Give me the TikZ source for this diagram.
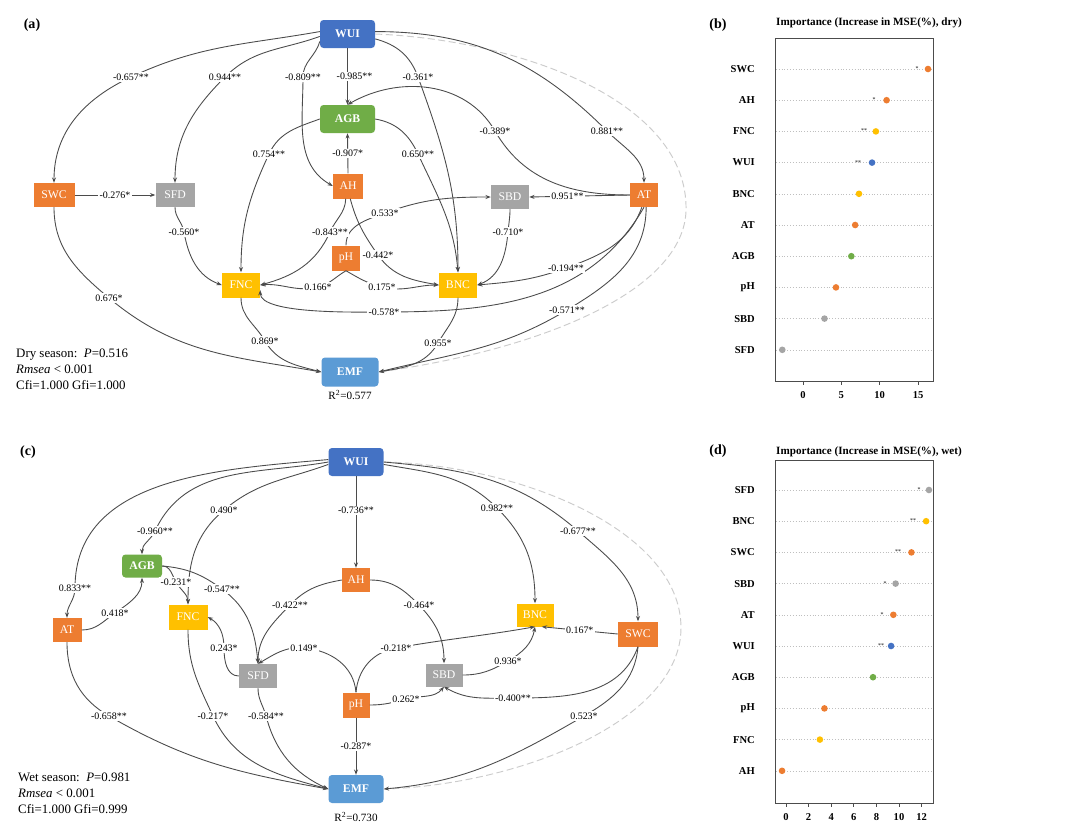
\documentclass[tikz,border=0pt]{standalone}
\usepackage{fontspec}
\setmainfont{Liberation Serif}
\usetikzlibrary{arrows.meta}

\definecolor{wuiblue}{RGB}{68,114,196}
\definecolor{emfblue}{RGB}{91,155,213}
\definecolor{agbgreen}{RGB}{112,173,71}
\definecolor{envorange}{RGB}{237,125,49}
\definecolor{ncyellow}{RGB}{255,192,0}
\definecolor{soilgray}{RGB}{165,165,165}
\definecolor{linkgray}{RGB}{75,75,75}

\tikzset{
  var/.style={fill=#1, text=white, inner sep=0pt, font=\fontsize{10}{12}\selectfont},
  rvar/.style={var=#1, rounded corners=3pt, font=\fontsize{10}{12}\selectfont\bfseries},
  sz/.style 2 args={minimum width=#1*0.03cm, minimum height=#2*0.03cm},
  link/.style={->, draw=linkgray, line width=0.75pt},
  coef/.style={fill=white, inner sep=1pt, font=\fontsize{8.5}{10}\selectfont},
  fitarc/.style={draw=black!20, dash pattern=on 6pt off 3pt, line width=0.8pt},
  panel/.style={font=\fontsize{12}{14}\selectfont\bfseries},
  stats/.style={anchor=west, align=left, inner sep=0pt, font=\fontsize{11}{13.6}\selectfont},
  rsq/.style={font=\fontsize{9.5}{11}\selectfont},
  ttl/.style={font=\fontsize{9.5}{11}\selectfont\bfseries},
  rowlab/.style={anchor=east, inner sep=0pt, font=\fontsize{9}{10}\selectfont\bfseries},
  ticklab/.style={font=\fontsize{9}{10}\selectfont\bfseries},
  sig/.style={inner sep=0pt, font=\fontsize{5}{5}\selectfont},
  dotrow/.style={draw=black!25, dotted, line width=0.4pt},
  plotbox/.style={draw=black!70, line width=0.7pt},
}

\begin{document}
\begin{tikzpicture}[x=0.03cm, y=-0.03cm, >={Stealth[length=4.5pt,width=3.4pt]}]
\path[use as bounding box, fill=white] (0,0) rectangle (1078,832);

% (a) dry season
\node[panel] (tagA) at (32,25) {(a)};
\node[rvar=wuiblue, sz={55}{28}] (WUIa) at (347.5,34) {WUI};
\node[rvar=agbgreen, sz={55}{28}] (AGBa) at (347.5,119) {AGB};
\node[var=envorange, sz={30}{25}] (AHa) at (348,186) {AH};
\node[var=envorange, sz={28}{25}] (pHa) at (346,258) {pH};
\node[var=ncyellow, sz={38}{25}] (FNCa) at (241,285) {FNC};
\node[var=ncyellow, sz={38}{25}] (BNCa) at (458,285) {BNC};
\node[var=envorange, sz={41}{24}] (SWCa) at (54,195) {SWC};
\node[var=soilgray, sz={39}{24}] (SFDa) at (175,195) {SFD};
\node[var=soilgray, sz={38}{24}] (SBDa) at (510,197) {SBD};
\node[var=envorange, sz={28}{24}] (ATa) at (644,195) {AT};
\node[rvar=emfblue, sz={57}{29}] (EMFa) at (350,372) {EMF};
\node[rsq] (R2a) at (350,395) {R\textsuperscript{2}=0.577};
\node[stats] (fitA) at (16,369) {Dry season:\ \ \textit{P}=0.516\\\textit{Rmsea} < 0.001\\Cfi=1.000 Gfi=1.000};

\draw[fitarc] (WUIa.east) .. controls (520,40) and (683,100) .. (686,205) .. controls (690,290) and (540,350) .. (EMFa.east);
\draw[link] (WUIa.175) to[out=190,in=25] (131,77) node[coef] {-0.657**} to[out=205,in=90] (SWCa.north);
\draw[link] (WUIa.185) to[out=200,in=45] (225,77) node[coef] {0.944**} to[out=225,in=90] (SFDa.north);
\draw[link] (WUIa.195) to[out=255,in=90] (303,77) node[coef] {-0.809**} to[out=270,in=150] (AHa.west);
\draw[link] (WUIa.south) -- node[coef,xshift=6pt] {-0.985**} (AGBa.north);
\draw[link] (WUIa.-10) to[out=345,in=110] (418,77) node[coef] {-0.361*} to[out=290,in=90] (BNCa.north);
\draw[link] (WUIa.5) to[out=0,in=135] (607,131) node[coef] {0.881**} to[out=315,in=90] (ATa.north);
\draw[link] (ATa.west) to[out=180,in=300] (495,131) node[coef] {-0.389*} to[out=120,in=30] (AGBa.north);
\draw[link] (AGBa.west) to[out=200,in=65] (269,154) node[coef] {0.754**} to[out=245,in=90] (FNCa.north);
\draw[link] (AHa.north) -- node[coef] {-0.907*} (AGBa.south);
\draw[link] (AGBa.east) to[out=350,in=115] (418,154) node[coef] {0.650**} to[out=295,in=95] (BNCa.north);
\draw[link] (SWCa.east) -- node[coef] {-0.276*} (SFDa.west);
\draw[link] (SFDa.south) to[out=270,in=100] (184,232) node[coef] {-0.560*} to[out=280,in=160] (FNCa.west);
\draw[link] (ATa.west) -- node[coef,pos=.62] {0.951**} (SBDa.east);
\draw[link] (SBDa.south) to[out=270,in=85] (508,232) node[coef] {-0.710*} to[out=265,in=20] (BNCa.east);
\draw[link] (pHa.north) to[out=90,in=200] (385,213) node[coef] {0.533*} to[out=20,in=180] (SBDa.west);
\draw[link] (AHa.-100) to[out=268,in=66] (330,232) node[coef] {-0.843**} to[out=246,in=15] (FNCa.east);
\draw[link] (AHa.-80) to[out=285,in=125] (378,255) node[coef] {-0.442*} to[out=305,in=170] (BNCa.west);
\draw[link] (pHa.south) to[out=210,in=14] (318,287) node[coef] {0.166*} to[out=194,in=5] (FNCa.east);
\draw[link] (pHa.south) to[out=330,in=166] (382,287) node[coef] {0.175*} to[out=346,in=180] (BNCa.west);
\draw[link] (ATa.south) to[out=240,in=0] (384,312) node[coef] {-0.578*} to[out=180,in=270,looseness=.5] (FNCa.-15);
\draw[link] (ATa.-100) to[out=250,in=20] (566,268) node[coef] {-0.194**} to[out=200,in=5] (BNCa.east);
\draw[link] (ATa.-80) to[out=270,in=31] (567,310) node[coef] {-0.571**} to[out=211,in=14] (EMFa.east);
\draw[link] (FNCa.south) to[out=270,in=120] (265,341) node[coef] {0.869*} to[out=300,in=165] (EMFa.west);
\draw[link] (BNCa.south) to[out=270,in=60] (438,343) node[coef] {0.955*} to[out=240,in=10] (EMFa.east);
\draw[link] (SWCa.south) to[out=270,in=140] (109,298) node[coef] {0.676*} to[out=320,in=170] (EMFa.west);

% (c) wet season
\node[panel] (tagC) at (28,452) {(c)};
\node[rvar=wuiblue, sz={55}{28}] (WUIc) at (356,462) {WUI};
\node[var=envorange, sz={28}{24}] (AHc) at (356,580) {AH};
\node[rvar=agbgreen, sz={40}{23}] (AGBc) at (142,566) {AGB};
\node[var=envorange, sz={29}{24}] (ATc) at (67,630) {AT};
\node[var=ncyellow, sz={39}{25}] (FNCc) at (188,617) {FNC};
\node[var=soilgray, sz={38}{24}] (SFDc) at (258,676) {SFD};
\node[var=envorange, sz={27}{25}] (pHc) at (356,705) {pH};
\node[var=soilgray, sz={37}{23}] (SBDc) at (444,675) {SBD};
\node[var=ncyellow, sz={37}{23}] (BNCc) at (535,615) {BNC};
\node[var=envorange, sz={40}{25}] (SWCc) at (638,634) {SWC};
\node[rvar=emfblue, sz={55}{28}] (EMFc) at (356,789) {EMF};
\node[rsq] (R2c) at (356,817) {R\textsuperscript{2}=0.730};
\node[stats] (fitC) at (18,793) {Wet season:\ \ \textit{P}=0.981\\\textit{Rmsea} < 0.001\\Cfi=1.000 Gfi=0.999};

\draw[fitarc] (WUIc.east) .. controls (520,465) and (680,530) .. (681,627) .. controls (682,720) and (520,785) .. (EMFc.east);
\draw[link] (WUIc.175) to[out=185,in=90] (75,588) node[coef] {0.833**} to[out=270,in=90] (ATc.north);
\draw[link] (WUIc.180) to[out=190,in=65] (155,531) node[coef] {-0.960**} to[out=245,in=90] (AGBc.north);
\draw[link] (WUIc.185) to[out=200,in=40] (224,510) node[coef] {0.490*} to[out=220,in=90] (FNCc.north);
\draw[link] (WUIc.south) -- node[coef,pos=.37] {-0.736**} (AHc.north);
\draw[link] (WUIc.-5) to[out=350,in=135] (497,508) node[coef] {0.982**} to[out=315,in=90] (BNCc.north);
\draw[link] (WUIc.east) to[out=355,in=139] (578,531) node[coef] {-0.677**} to[out=319,in=90] (SWCc.north);
\draw[link] (ATc.east) to[out=0,in=215] (115,613) node[coef] {0.418*} to[out=35,in=270] (AGBc.south);
\draw[link] (AGBc.east) to[out=0,in=120] (176,582) node[coef] {-0.231*} to[out=300,in=90] (FNCc.north);
\draw[link] (AGBc.east) to[out=355,in=144] (222,589) node[coef] {-0.547**} to[out=324,in=95] (SFDc.north);
\draw[link] (AHc.west) to[out=190,in=46] (290,605) node[coef] {-0.422**} to[out=226,in=90] (SFDc.north);
\draw[link] (AHc.east) to[out=0,in=134] (419,605) node[coef] {-0.464*} to[out=314,in=90] (SBDc.north);
\draw[link] (SFDc.west) to[out=180,in=270] (224,648) node[coef] {0.243*} to[out=90,in=330] (FNCc.east);
\draw[link] (pHc.north) to[out=95,in=355] (304,648) node[coef] {0.149*} to[out=175,in=30] (SFDc.north);
\draw[link] (pHc.north) to[out=85,in=190] (396,648) node[coef] {-0.218*} to[out=10,in=190] (BNCc.south);
\draw[link] (pHc.east) to[out=0,in=195] (406,699) node[coef] {0.262*} to[out=15,in=230] (SBDc.south);
\draw[link] (SBDc.east) to[out=0,in=210] (508,661) node[coef] {0.936*} to[out=30,in=260] (BNCc.south);
\draw[link] (SWCc.west) -- node[coef] {0.167*} (BNCc.-60);
\draw[link] (SWCc.south) to[out=250,in=0] (513,698) node[coef] {-0.400**} to[out=180,in=330] (SBDc.south);
\draw[link] (SWCc.south) to[out=265,in=30] (584,716) node[coef] {0.523*} to[out=210,in=5] (EMFc.east);
\draw[link] (ATc.south) to[out=270,in=150] (109,716) node[coef] {-0.658**} to[out=330,in=170] (EMFc.west);
\draw[link] (FNCc.south) to[out=270,in=115] (213,716) node[coef] {-0.217*} to[out=295,in=165] (EMFc.west);
\draw[link] (SFDc.south) to[out=270,in=105] (266,716) node[coef] {-0.584**} to[out=285,in=155] (EMFc.west);
\draw[link] (pHc.south) -- node[coef] {-0.287*} (EMFc.north);

% (b) importance, dry season
\node[panel] (tagB) at (718,25) {(b)};
\node[ttl] (ttlB) at (869,23) {Importance (Increase in MSE(\%), dry)};
\foreach \vname/\val/\col [count=\i] in {SWC/16.3/envorange, AH/10.9/envorange, FNC/9.5/ncyellow, WUI/9.0/wuiblue, BNC/7.3/ncyellow, AT/6.8/envorange, AGB/6.3/agbgreen, pH/4.3/envorange, SBD/2.8/soilgray, SFD/-2.7/soilgray}{
  \pgfmathsetmacro{\yy}{69+(\i-1)*31.2}
  \draw[dotrow] (776,\yy) -- (932,\yy);
  \node[rowlab] (rowb\i) at (755,\yy) {\vname};
  \fill[\col] ({803+\val*7.67},\yy) circle (3.3);
}
\foreach \sx/\sy/\st [count=\k] in {917/69/*, 874/100/*, 864/131/**, 858/163/**}
  \node[sig] (sigb\k) at (\sx,\sy) {\st};
\draw[plotbox] (775,38) rectangle (933,381);
\foreach \tk in {0,5,10,15}{
  \draw[plotbox] ({803+\tk*7.67},381) -- ++(0,4);
  \node[ticklab] (tickb\tk) at ({803+\tk*7.67},395) {\tk};
}

% (d) importance, wet season
\node[panel] (tagD) at (718,451) {(d)};
\node[ttl] (ttlD) at (869,452) {Importance (Increase in MSE(\%), wet)};
\foreach \vname/\val/\col [count=\i] in {SFD/12.65/soilgray, BNC/12.4/ncyellow, SWC/11.1/envorange, SBD/9.7/soilgray, AT/9.5/envorange, WUI/9.3/wuiblue, AGB/7.7/agbgreen, pH/3.4/envorange, FNC/3.0/ncyellow, AH/-0.35/envorange}{
  \pgfmathsetmacro{\yy}{490+(\i-1)*31.2}
  \draw[dotrow] (776,\yy) -- (932,\yy);
  \node[rowlab] (rowd\i) at (755,\yy) {\vname};
  \fill[\col] ({786+\val*11.3},\yy) circle (3.3);
}
\foreach \sx/\sy/\st [count=\k] in {919/490/*, 913/521/**, 898/552/**, 885/584/*, 882/615/*, 881/646/**}
  \node[sig] (sigd\k) at (\sx,\sy) {\st};
\draw[plotbox] (775,460) rectangle (933,803);
\foreach \tk in {0,2,4,6,8,10,12}{
  \draw[plotbox] ({786+\tk*11.3},803) -- ++(0,4);
  \node[ticklab] (tickd\tk) at ({786+\tk*11.3},817) {\tk};
}
\end{tikzpicture}
\end{document}
